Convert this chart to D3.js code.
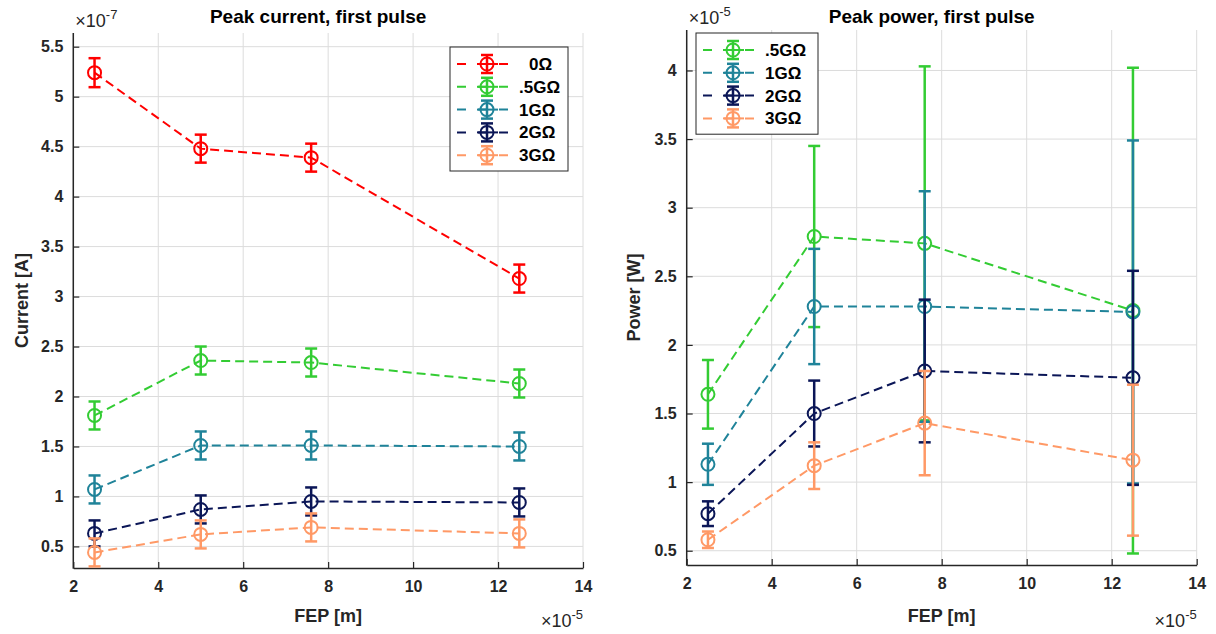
<!DOCTYPE html>
<html>
<head>
<meta charset="utf-8">
<script src="https://cdn.jsdelivr.net/npm/d3@7"></script>
<style>
  html, body { margin: 0; padding: 0; background: #fff; }
  svg { display: block; font-family: "Liberation Sans", Arial, sans-serif; }
  .grid line { stroke: #dcdcdc; stroke-width: 1; }
</style>
</head>
<body>
<svg id="chart" width="1216" height="634"></svg>
<script>
// FEP positions (x 1e-5 m)
const fep = [2.5, 5, 7.6, 12.5];
const xTicks = [2, 4, 6, 8, 10, 12, 14];

// left panel: peak current (x 1e-7 A)
const currentNames = ["0Ω", ".5GΩ", "1GΩ", "2GΩ", "3GΩ"];
const currentVals = [
  [5.24, 4.48, 4.39, 3.18],
  [1.81, 2.36, 2.34, 2.13],
  [1.07, 1.51, 1.51, 1.50],
  [0.63, 0.87, 0.95, 0.94],
  [0.44, 0.62, 0.69, 0.63]
];
const currentErr = [
  [0.145, 0.14, 0.14, 0.14],
  [0.14, 0.14, 0.14, 0.14],
  [0.14, 0.14, 0.14, 0.14],
  [0.13, 0.14, 0.14, 0.14],
  [0.14, 0.14, 0.14, 0.14]
];
const currentTicks = [0.5, 1, 1.5, 2, 2.5, 3, 3.5, 4, 4.5, 5, 5.5];

// right panel: peak power (x 1e-5 W)
const powerNames = [".5GΩ", "1GΩ", "2GΩ", "3GΩ"];
const powerVals = [
  [1.64, 2.79, 2.74, 2.25],
  [1.13, 2.28, 2.28, 2.24],
  [0.77, 1.50, 1.81, 1.76],
  [0.58, 1.12, 1.43, 1.16]
];
const powerErr = [
  [0.25, 0.66, 1.29, 1.77],
  [0.15, 0.42, 0.84, 1.25],
  [0.09, 0.24, 0.52, 0.78],
  [0.06, 0.17, 0.38, 0.55]
];
const powerTicks = [0.5, 1, 1.5, 2, 2.5, 3, 3.5, 4];

const colors = {
  "0Ω": "#ff0000",
  ".5GΩ": "#33cc33",
  "1GΩ": "#1f8399",
  "2GΩ": "#0b1657",
  "3GΩ": "#ff9966"
};

const svg = d3.select('#chart');
const FONT = '"Liberation Sans", Arial, sans-serif';

function panel(cfg) {
  const x = d3.scaleLinear().domain([2, 14]).range([cfg.left, cfg.right]);
  const y = d3.scaleLinear().domain(cfg.yDomain).range([cfg.bottom, cfg.top]);
  const g = svg.append('g');

  // grid
  const grid = g.append('g').attr('class', 'grid');
  grid.selectAll('line.v').data(xTicks).join('line')
    .attr('x1', d => x(d)).attr('x2', d => x(d))
    .attr('y1', cfg.top).attr('y2', cfg.bottom);
  grid.selectAll('line.h').data(cfg.yTicks).join('line')
    .attr('x1', cfg.left).attr('x2', cfg.right)
    .attr('y1', d => y(d)).attr('y2', d => y(d));

  // axes
  const xAxis = g.append('g').attr('transform', `translate(0,${cfg.bottom})`)
    .call(d3.axisBottom(x).tickValues(xTicks).tickSizeInner(-6).tickSizeOuter(0).tickPadding(13));
  const yAxis = g.append('g').attr('transform', `translate(${cfg.left},0)`)
    .call(d3.axisLeft(y).tickValues(cfg.yTicks).tickSizeInner(-6).tickSizeOuter(0).tickPadding(10)
      .tickFormat(d => String(d)));
  [xAxis, yAxis].forEach(a => {
    a.attr('font-family', FONT).attr('font-size', 16);
    a.select('.domain').attr('stroke', '#262626').attr('stroke-width', 1.5);
    a.selectAll('.tick line').attr('stroke', '#262626').attr('stroke-width', 1.2);
    a.selectAll('.tick text').attr('font-weight', 'bold').attr('fill', '#262626');
  });
  yAxis.select('.domain').attr('d', `M0,${cfg.bottom + 0.75}V${cfg.top}`);

  // series
  cfg.names.forEach((name, i) => {
    const col = colors[name];
    const pts = fep.map((f, j) => ({ x: f, y: cfg.vals[i][j], e: cfg.err[i][j] }));
    const s = g.append('g');
    s.append('path')
      .attr('d', d3.line().x(d => x(d.x)).y(d => y(d.y))(pts))
      .attr('fill', 'none').attr('stroke', col).attr('stroke-width', 2)
      .attr('stroke-dasharray', '9,5');
    const bars = s.selectAll('g.eb').data(pts).join('g');
    bars.append('line')
      .attr('x1', d => x(d.x)).attr('x2', d => x(d.x))
      .attr('y1', d => y(d.y - d.e)).attr('y2', d => y(d.y + d.e))
      .attr('stroke', col).attr('stroke-width', 2.5);
    [-1, 1].forEach(sg => {
      bars.append('line')
        .attr('x1', d => x(d.x) - 6).attr('x2', d => x(d.x) + 6)
        .attr('y1', d => y(d.y + sg * d.e)).attr('y2', d => y(d.y + sg * d.e))
        .attr('stroke', col).attr('stroke-width', 2.5);
    });
    bars.append('circle')
      .attr('cx', d => x(d.x)).attr('cy', d => y(d.y)).attr('r', 6.5)
      .attr('fill', 'none').attr('stroke', col).attr('stroke-width', 2);
  });

  // title
  svg.append('text').attr('x', (cfg.left + cfg.right) / 2 - 10).attr('y', 23)
    .attr('text-anchor', 'middle').attr('font-weight', 'bold').attr('font-size', 19)
    .attr('fill', '#000').text(cfg.title);

  // x label
  svg.append('text').attr('x', (cfg.left + cfg.right) / 2).attr('y', 622)
    .attr('text-anchor', 'middle').attr('font-weight', 'bold').attr('font-size', 18)
    .attr('fill', '#262626').text('FEP [m]');

  // y label
  svg.append('text')
    .attr('transform', `translate(${cfg.yLabelX},${(cfg.top + cfg.bottom) / 2}) rotate(-90)`)
    .attr('text-anchor', 'middle').attr('font-weight', 'bold').attr('font-size', 18)
    .attr('fill', '#262626').text(cfg.yLabel);

  // exponents
  const ex = svg.append('text').attr('x', cfg.right).attr('y', 627)
    .attr('text-anchor', 'end').attr('font-size', 18).attr('fill', '#262626');
  ex.append('tspan').text('×10');
  ex.append('tspan').attr('dy', -8).attr('font-size', 13).text('-5');

  const ey = svg.append('text').attr('x', cfg.left + 2).attr('y', cfg.top - 6)
    .attr('font-size', 18).attr('fill', '#262626');
  ey.append('tspan').text('×10');
  ey.append('tspan').attr('dy', -8).attr('font-size', 13).text(cfg.yExp);

  // legend
  const lg = svg.append('g').attr('transform', `translate(${cfg.legX},${cfg.legY})`);
  const rowH = 22.8;
  lg.append('rect').attr('x', 0).attr('y', 0)
    .attr('width', cfg.legW).attr('height', cfg.names.length * rowH + 10)
    .attr('fill', '#fff').attr('stroke', '#262626').attr('stroke-width', 1);
  cfg.names.forEach((name, i) => {
    const col = colors[name];
    const cy = 17 + i * rowH;
    const r = lg.append('g');
    r.append('line').attr('x1', 7).attr('x2', 64).attr('y1', cy).attr('y2', cy)
      .attr('stroke', col).attr('stroke-width', 2).attr('stroke-dasharray', '9,12');
    r.append('line').attr('x1', 27).attr('x2', 48).attr('y1', cy).attr('y2', cy)
      .attr('stroke', col).attr('stroke-width', 2);
    r.append('line').attr('x1', 37).attr('x2', 37).attr('y1', cy - 9).attr('y2', cy + 9)
      .attr('stroke', col).attr('stroke-width', 2.5);
    [-9, 9].forEach(o => r.append('line').attr('x1', 31).attr('x2', 43)
      .attr('y1', cy + o).attr('y2', cy + o).attr('stroke', col).attr('stroke-width', 2.5));
    r.append('circle').attr('cx', 37).attr('cy', cy).attr('r', 6.5)
      .attr('fill', 'none').attr('stroke', col).attr('stroke-width', 2);
    r.append('text').attr('x', name === "0Ω" ? 79 : 69).attr('y', cy + 6)
      .attr('font-weight', 'bold').attr('font-size', 17).attr('fill', '#000').text(name);
  });
}

panel({
  left: 73.3, right: 583, top: 33, bottom: 568,
  yDomain: [0.284, 5.637], yTicks: currentTicks,
  names: currentNames, vals: currentVals, err: currentErr,
  title: 'Peak current, first pulse', yLabel: 'Current [A]', yLabelX: 28, yExp: '-7',
  legX: 450, legY: 47, legW: 118
});

panel({
  left: 686.7, right: 1196.7, top: 30, bottom: 565,
  yDomain: [0.396, 4.295], yTicks: powerTicks,
  names: powerNames, vals: powerVals, err: powerErr,
  title: 'Peak power, first pulse', yLabel: 'Power [W]', yLabelX: 640, yExp: '-5',
  legX: 696, legY: 33, legW: 122
});
</script>
</body>
</html>
